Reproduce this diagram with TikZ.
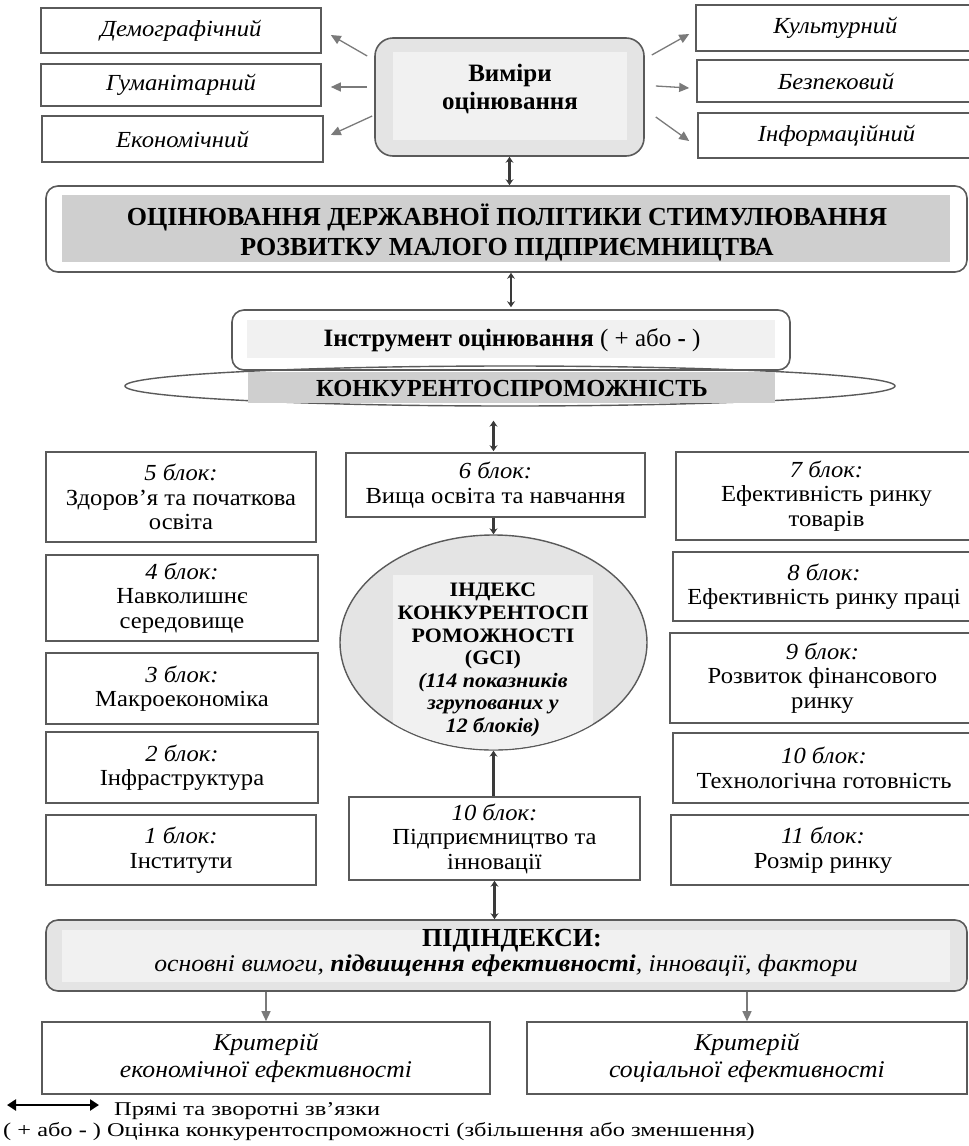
\documentclass[tikz,border=0pt]{standalone}
\usepackage{fontspec}
\setmainfont{Liberation Serif}[FakeStretch=1.07]
\newfontfamily\plainfont{Liberation Serif}
\newfontfamily\widefont[FakeStretch=1.25]{Liberation Serif}
\usetikzlibrary{arrows.meta,shapes.geometric,calc}
\newcommand\fsz[2]{\fontsize{#1pt}{#2pt}\selectfont}
\definecolor{bord}{HTML}{5A5A5A}
\definecolor{garc}{HTML}{7A7A7A}
\definecolor{dark}{HTML}{3A3A3A}
\definecolor{lgray}{HTML}{E4E4E4}
\definecolor{llgray}{HTML}{F1F1F1}
\definecolor{mgray}{HTML}{CFCFCF}
\begin{document}
\begin{tikzpicture}[x=1pt,y=-1pt,
  box/.style={draw=bord,line width=1.6pt,fill=white,align=center,inner sep=1pt},
  itbox/.style={box,font=\fsz{23}{26}\itshape},
  blk/.style={box,font=\fsz{23}{24.5}},
  rbox/.style={draw=bord,line width=1.6pt,rounded corners=12pt},
  garr/.style={draw=garc,line width=1.3pt,-{Triangle[length=10pt,width=9pt]}},
  darr/.style={draw=dark,line width=2.4pt,{Stealth[length=6pt,width=8pt]}-{Stealth[length=6pt,width=8pt]}},
  darone/.style={draw=dark,line width=2.4pt,-{Stealth[length=6pt,width=8pt]}},
  txt/.style={align=center,inner sep=0pt},
]
\useasboundingbox (0,0) rectangle (969,1146);

% ---- top dimension boxes
\node[itbox,minimum width=280pt,minimum height=45pt] (dem) at (181,30.5) {Демографічний};
\node[itbox,minimum width=280pt,minimum height=42pt] (hum) at (181,85) {Гуманітарний};
\node[itbox,minimum width=281pt,minimum height=46pt] (eco) at (182.5,139) {Економічний};
\node[itbox,minimum width=279pt,minimum height=46pt] (cul) at (835.5,28) {Культурний};
\node[itbox,minimum width=278pt,minimum height=42pt] (bez) at (836,81) {Безпековий};
\node[itbox,minimum width=277pt,minimum height=45pt] (inf) at (836.5,135.5) {Інформаційний};

% ---- dimensions of evaluation
\node[rbox,rounded corners=18pt,fill=lgray,minimum width=269pt,minimum height=118pt] (vym) at (509.5,97) {};
\fill[llgray] (393,52) rectangle (627,140);
\node[txt,font=\fsz{25}{28}\plainfont\bfseries] (vymt) at (510,89) {Виміри\\оцінювання};

\draw[garr] ([xshift=-7pt,yshift=41pt]vym.west) -- ([xshift=9pt,yshift=-4.5pt]dem.east);
\draw[garr] ([xshift=-7pt,yshift=10pt]vym.west) -- ([xshift=9pt,yshift=-2pt]hum.east);
\draw[garr] ([xshift=-2pt,yshift=-19pt]vym.west) -- ([xshift=7pt,yshift=4pt]eco.west -| eco.east);
\draw[garr] ([xshift=7pt,yshift=42pt]vym.east) -- ([xshift=-6pt,yshift=-6pt]cul.west);
\draw[garr] ([xshift=11pt,yshift=11pt]vym.east) -- ([xshift=-7pt,yshift=-7pt]bez.west);
\draw[garr] ([xshift=11pt,yshift=-20pt]vym.east) -- ([xshift=-8pt,yshift=-5.5pt]inf.west);

% ---- main box
\node[rbox,fill=white,minimum width=921pt,minimum height=86pt] (main) at (506.5,229) {};
\fill[mgray] (62,195) rectangle (950,262);
\node[txt,font=\fsz{26}{30}\plainfont\bfseries] (maint) at (507,232) {ОЦІНЮВАННЯ ДЕРЖАВНОЇ ПОЛІТИКИ СТИМУЛЮВАННЯ\\РОЗВИТКУ МАЛОГО ПІДПРИЄМНИЦТВА};
\draw[darr] (vym.south) -- (vym.south |- main.north);

% ---- instrument
\node[rbox,fill=white,minimum width=558pt,minimum height=60pt] (instr) at (511,340) {};
\fill[llgray] (247,320) rectangle (775,358);
\node[txt,font=\fsz{25}{28}\plainfont] (instrt) at (512,340) {\textbf{Інструмент оцінювання} ( + або \textbf{-} )};
\draw[darr] (instr.north) ++(0,-2) coordinate (ia) (main.south -| ia) -- (ia);

\node[draw=bord,line width=1.4pt,ellipse,minimum width=770pt,minimum height=40pt,inner sep=0pt] (kon) at (510,386) {};
\fill[mgray] (248,372) rectangle (775,403);
\node[txt,font=\fsz{24.5}{28}\plainfont\bfseries] (kont) at (512,389) {КОНКУРЕНТОСПРОМОЖНІСТЬ};

% ---- centre column
\node[blk,minimum width=299pt,minimum height=64pt] (b6) at (495.5,485) {\textit{6 блок:}\\Вища освіта та навчання};
\node[draw=bord,line width=1.4pt,ellipse,fill=lgray,minimum width=307pt,minimum height=215pt,inner sep=0pt] (gci) at (493.5,642.5) {};
\begin{scope}
  \clip (gci.center) ellipse [x radius=152.8pt, y radius=106.8pt];
  \fill[llgray] (393,575) rectangle (593,760);
\end{scope}
\node[txt,font=\fsz{20.5}{22.6}\bfseries] (gcit) at (493,660) {ІНДЕКС\\КОНКУРЕНТОСП\\РОМОЖНОСТІ\\(GCI)\\\textit{(114 показників}\\\textit{згрупованих у}\\\textit{12 блоків)}};
\node[blk,minimum width=291pt,minimum height=83pt] (b10m) at (494.5,838.5) {\textit{10 блок:}\\Підприємництво та\\інновації};

\draw[darr] ([yshift=-14pt]kon.south -| gci.north) -- ([yshift=1pt]b6.north -| gci.north);
\draw[darone] (b6.south -| gci.north) -- (gci.north);
\draw[darone] (b10m.north -| gci.south) -- (gci.south);

% ---- left column
\node[blk,minimum width=270pt,minimum height=90pt] (b5) at (181,497) {\textit{5 блок:}\\Здоров’я та початкова\\освіта};
\node[blk,minimum width=272pt,minimum height=86pt] (b4) at (182,598) {\textit{4 блок:}\\Навколишнє\\середовище};
\node[blk,minimum width=272pt,minimum height=71pt] (b3) at (182,688.5) {\textit{3 блок:}\\Макроекономіка};
\node[blk,minimum width=272pt,minimum height=71pt] (b2) at (182,767.5) {\textit{2 блок:}\\Інфраструктура};
\node[blk,minimum width=270pt,minimum height=70pt] (b1) at (181,850) {\textit{1 блок:}\\Інститути};

% ---- right column
\node[blk,minimum width=301pt,minimum height=88pt] (b7) at (826.5,496) {\textit{7 блок:}\\Ефективність ринку\\товарів};
\node[blk,minimum width=302pt,minimum height=69pt] (b8) at (824,586.5) {\textit{8 блок:}\\Ефективність ринку праці};
\node[blk,minimum width=305pt,minimum height=90pt] (b9) at (822.5,678) {\textit{9 блок:}\\Розвиток фінансового\\ринку};
\node[blk,minimum width=302pt,minimum height=70pt] (b10) at (824,768) {\textit{10 блок:}\\Технологічна готовність};
\node[blk,minimum width=304pt,minimum height=70pt] (b11) at (823,850) {\textit{11 блок:}\\Розмір ринку};

% ---- sub-indices
\node[rbox,fill=lgray,minimum width=921pt,minimum height=71pt] (sub) at (506.5,955.5) {};
\fill[llgray] (62,930) rectangle (950,982);
\node[txt,font=\fsz{26}{25}\plainfont\bfseries] (subh) at (512,941) {ПІДІНДЕКСИ:};
\node[txt,font=\fsz{24}{25}\itshape] (subt) at (506,966) {основні вимоги, \textbf{підвищення ефективності}, інновації, фактори};
\draw[darr] (b10m.south) -- (b10m.south |- sub.north);

% ---- criteria
\node[box,font=\fsz{24}{27}\itshape,minimum width=448pt,minimum height=72pt] (kl) at (266,1058) {Критерій\\економічної ефективності};
\node[box,font=\fsz{24}{27}\itshape,minimum width=440pt,minimum height=72pt] (kr) at (747,1058) {Критерій\\соціальної ефективності};
\draw[garr] (sub.south -| kl.north) -- (kl.north);
\draw[garr] (sub.south -| kr.north) -- (kr.north);

% ---- legend
\coordinate (la) at (7,1105);
\coordinate (lb) at (99,1105);
\draw[black,line width=2.6pt,{Triangle[length=9pt,width=11pt]}-{Triangle[length=9pt,width=11pt]}] (la) -- (lb);
\node[anchor=west,inner sep=0pt,font=\fsz{19.5}{22}\widefont] (l1) at (114,1111) {Прямі та зворотні зв’язки};
\node[anchor=west,inner sep=0pt,font=\fsz{19.5}{22}\widefont] (l2) at (3,1132) {( + або \textbf{-} )\hspace{6pt}Оцінка конкурентоспроможності (збільшення або зменшення)};
\end{tikzpicture}
\end{document}
